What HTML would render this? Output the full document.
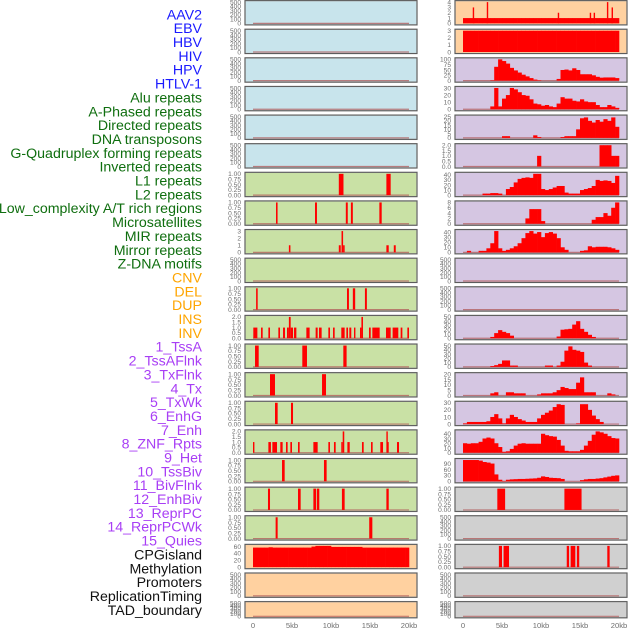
<!DOCTYPE html>
<html><head><meta charset="utf-8">
<style>
html,body{margin:0;padding:0;background:#fff;}
svg{display:block;font-family:"Liberation Sans",sans-serif;}
</style></head>
<body>
<svg id="chart" width="630" height="630" viewBox="0 0 630 630" xmlns="http://www.w3.org/2000/svg">
<g id="labels"></g>
<g id="panels"></g>
</svg>
<script>
// ---------- labels ----------
const labelNames = ["AAV2","EBV","HBV","HIV","HPV","HTLV-1","Alu repeats","A-Phased repeats","Directed repeats","DNA transposons","G-Quadruplex forming repeats","Inverted repeats","L1 repeats","L2 repeats","Low_complexity A/T rich regions","Microsatellites","MIR repeats","Mirror repeats","Z-DNA motifs","CNV","DEL","DUP","INS","INV","1_TssA","2_TssAFlnk","3_TxFlnk","4_Tx","5_TxWk","6_EnhG","7_Enh","8_ZNF_Rpts","9_Het","10_TssBiv","11_BivFlnk","12_EnhBiv","13_ReprPC","14_ReprPCWk","15_Quies","CPGisland","Methylation","Promoters","ReplicationTiming","TAD_boundary"];
const labelGroups = [6,13,5,15,5];
const groupColors = ["#1a1aff","#0f6e0f","#ffa500","#a83ef5","#111111"];

// ---------- tick label sets ----------
const ticksEmpty = ["0","100","200","300","400","500"];
const ticksUnit = ["0.00","0.25","0.50","0.75","1.00"];
const ticksTwo = ["0.0","0.5","1.0","1.5","2.0"];
const ticksThree = ["0","1","2","3"];
const ticksAAV2 = ["0","1","2","3","4"];
const ticksHIV = ["0","25","50","75","100"];
const ticks30 = ["0","10","20","30"];
const ticks25 = ["0","5","10","15","20","25"];
const ticks40 = ["0","10","20","30","40"];
const ticks8 = ["0","2","4","6","8"];
const ticks50 = ["0","10","20","30","40","50"];
const ticks20 = ["0","5","10","15","20"];
const ticks90 = ["0","30","60","90"];
const ticksCPG = ["0","20","40","60"];
const xTickLabels = ["0","5kb","10kb","15kb","20kb"];
const xTickValues = [0,5,10,15,20];

// ---------- binned series (40 bins x 0.5kb) ----------
const binsAAV2 = [1,1,1,1,1,1,1,1,1,1,1,1,1,1,1,1,1,1,1,1,1,1,1,1,1,1,1,1,1,1,1,1,1,1,1,1,1,1,1,1];
const binsEBV = [3,3,3,3,3,3,3,3,3,3,3,3,3,3,3,3,3,3,3,3,3,3,3,3,3,3,3,3,3,3,3,3,3,3,3,3,3,3,3,3];
const binsHIV = [0,0,0,0,0,0,0,2,65,100,92,80,60,48,38,28,20,12,5,2,0,0,0,0,8,50,52,48,58,50,30,30,30,25,18,14,15,15,15,12];
const binsAlu = [0,0,0,0,0,0,0,4,30,4,15,20,30,28,24,20,19,14,8,7,5,6,4,3,8,17,15,15,12,11,14,11,10,10,6,3,3,6,4,2];
const binsDirected = [0,0,0,0,0,0,0,0,0,0,2,2,0,0,0,0,0,0,3,1,0,0,0,0,0,1,2,2,2,10,23,24,20,18,21,19,22,20,24,13];
const binsDNA = [0,0,0,0,0,0,0,0,0,0,0,0,0,0,0,0,0,0,0,1,0,0,0,0,0,0,0,0,0,0,0,0,0,0,0,2,2,2,1,1];
const binsGQuad = [0,0,0,0,0,3,3,4,4,3,0,12,16,25,32,34,35,34,42,42,12,10,12,15,18,18,5,3,3,3,10,12,14,18,30,28,29,28,24,38];
const binsInverted = [0,0,0,0,0,0,0,0,0,0,0,0,0,0,0,0,2,5.5,5.5,5.5,1,0,0,0,0,0,0,0,0,0,0,0,0,1.5,2.5,2.5,4,3,6,8];
const binsL1 = [0,3,0,0,3,3,8,18,42,8,3,5,8,12,18,28,38,42,37,40,30,38,40,37,28,10,5,0,0,0,3,4,12,10,11,11,11,10,8,5];
const binsR11 = [0,0,0,0,0,0,0,3,12,19,15,12,6,0,0,0,0,0,0,0,0,0,0,0,4,20,21,22,32,40,22,15,8,3,0,0,0,0,0,0];
const binsR12 = [0,0,0,0,0,0,0,2,4,7,15,15,3,3,0,0,0,0,0,0,0,3,3,0,3,12,38,48,40,38,35,10,3,0,0,0,0,0,0,0];
const binsR13 = [0,0,0,0,0,0,0,2,3,0,0,3,3,2,2,2,0,0,0,1,2,2,2,3,5,8,7,6,6,12,17,3,3,3,0,0,0,2,1,0];
const binsR14 = [1,3,3,3,3,3,4,10,14,8,1,8,13,10,7,5,3,3,3,8,13,16,19,24,28,27,0,0,0,1,28,28,20,12,7,3,0,0,0,0];
const binsR15 = [20,19,20,20,23,30,32,30,20,12,2,3,8,15,19,20,19,19,19,19,40,37,35,34,27,15,4,3,3,3,6,15,25,38,45,43,40,35,31,30];
const binsR16 = [108,108,108,108,105,98,95,90,35,8,2,8,10,11,12,12,13,14,15,18,25,22,18,17,16,12,0,0,0,0,6,10,12,12,14,16,20,24,28,30];
const binsCPG = [57,57,57,57,58,57,57,57,57,57,57,57,57,57,57,60,62,62,62,62,59,59,59,59,59,59,59,59,57,57,57,57,57,57,57,57,57,57,57,57];

// ---------- segment series (kb start, kb end, height) ----------
const aav2Starts = [1.25,3.05,12.15,16.25,16.75,18.45,19.05];
const aav2Ends = [1.4,3.2,12.3,16.4,16.9,18.6,19.2];
const aav2Heights = [3,4,2,2,2,4,3];

const l1Starts = [11.0,17.1];
const l1Ends = [11.6,17.65];
const l1Heights = [1,1];

const l2Starts = [2.95,7.95,11.9,12.55,16.2];
const l2Ends = [3.15,8.2,12.15,12.8,16.5];
const l2Heights = [1,1,1,1,1];

const lowStarts = [4.6,11.0,11.35,11.55,17.1,18.05];
const lowEnds = [4.8,11.25,11.55,11.75,17.4,18.3];
const lowHeights = [1,1,3,1,1,1];

const mirStarts = [0.4,12.05,12.8,14.35];
const mirEnds = [0.6,12.3,13.1,14.6];
const mirHeights = [1,1,1,1];

const insStarts = [0.04,1.03,1.97,3.25,3.85,4.36,4.6,4.83,5.26,6.84,8.03,8.46,9.66,10.26,11.32,11.97,12.35,12.95,13.72,13.9,14.87,15.3,17.05,17.9,18.93,19.79];
const insEnds = [0.56,1.24,2.18,3.46,4.1,4.6,4.83,5.13,5.56,7.26,8.29,8.8,9.87,10.47,11.75,12.18,12.6,13.12,13.9,14.1,15.09,16.24,17.65,18.63,19.15,20.0];
const insHeights = [1,1,1,1,1,1,2,1,1,1,1,1,1,1,1,1,1,1,1,2,1,1,1,1,1,1];

const tssAStarts = [0.26,6.32,11.58];
const tssAEnds = [0.73,6.92,12.0];
const tssAHeights = [1,1,1];

const tssAFlnkStarts = [2.18,8.85];
const tssAFlnkEnds = [2.82,9.36];
const tssAFlnkHeights = [1,1];

const txFlnkStarts = [2.82,4.87];
const txFlnkEnds = [3.16,5.13];
const txFlnkHeights = [1,1];

const txStarts = [0.0,1.97,2.48,3.5,4.23,4.79,5.77,7.74,9.66,10.38,11.32,11.5,12.1,13.97,15.13,16.32,17.1,17.2,18.46];
const txEnds = [0.12,2.3,3.08,3.8,4.44,5.0,5.98,8.29,9.87,10.6,11.5,11.7,12.4,14.19,15.34,16.67,17.2,17.4,18.72];
const txHeights = [1,1,1,1,1,1,1,1,1,1,1,2,1,1,1,1,2,1,1];

const txWkStarts = [3.72,9.1];
const txWkEnds = [4.06,9.44];
const txWkHeights = [1,1];

const enhGStarts = [1.92,5.77,7.74,8.2,11.4,17.1];
const enhGEnds = [2.18,6.11,8.1,8.5,11.75,17.4];
const enhGHeights = [1,1,1,1,1,1];

const enhStarts = [2.9,14.9];
const enhEnds = [3.16,15.3];
const enhHeights = [1,1];

const bivStarts = [4.4,13.0];
const bivEnds = [5.4,15.2];
const bivHeights = [1,1];

const reprStarts = [4.6,5.2,13.3,13.8,14.6,18.5];
const reprEnds = [5.0,5.9,13.6,14.4,14.9,18.8];
const reprHeights = [1,1,1,1,1,1];

// ---------- track layout ----------
const BLUE="#c8e4ec", GREEN="#c9e1a5", ORANGE="#ffd1a0", PURPLE="#d5c6e2", GREY="#d0d0d0";
const leftTracks = [
 {bg:BLUE,ticks:ticksEmpty},{bg:BLUE,ticks:ticksEmpty},{bg:BLUE,ticks:ticksEmpty},
 {bg:BLUE,ticks:ticksEmpty},{bg:BLUE,ticks:ticksEmpty},{bg:BLUE,ticks:ticksEmpty},
 {bg:GREEN,ticks:ticksUnit,segs:[l1Starts,l1Ends,l1Heights]},
 {bg:GREEN,ticks:ticksUnit,segs:[l2Starts,l2Ends,l2Heights]},
 {bg:GREEN,ticks:ticksThree,segs:[lowStarts,lowEnds,lowHeights]},
 {bg:GREEN,ticks:ticksEmpty},
 {bg:GREEN,ticks:ticksUnit,segs:[mirStarts,mirEnds,mirHeights]},
 {bg:GREEN,ticks:ticksTwo,segs:[insStarts,insEnds,insHeights]},
 {bg:GREEN,ticks:ticksUnit,segs:[tssAStarts,tssAEnds,tssAHeights]},
 {bg:GREEN,ticks:ticksUnit,segs:[tssAFlnkStarts,tssAFlnkEnds,tssAFlnkHeights]},
 {bg:GREEN,ticks:ticksUnit,segs:[txFlnkStarts,txFlnkEnds,txFlnkHeights]},
 {bg:GREEN,ticks:ticksTwo,segs:[txStarts,txEnds,txHeights]},
 {bg:GREEN,ticks:ticksUnit,segs:[txWkStarts,txWkEnds,txWkHeights]},
 {bg:GREEN,ticks:ticksUnit,segs:[enhGStarts,enhGEnds,enhGHeights]},
 {bg:GREEN,ticks:ticksUnit,segs:[enhStarts,enhEnds,enhHeights]},
 {bg:ORANGE,ticks:ticksCPG,bins:binsCPG,noBase:true},
 {bg:ORANGE,ticks:ticksEmpty},{bg:ORANGE,ticks:ticksEmpty}
];
const rightTracks = [
 {bg:ORANGE,ticks:ticksAAV2,bins:binsAAV2,segs:[aav2Starts,aav2Ends,aav2Heights],noBase:true},
 {bg:ORANGE,ticks:ticksThree,bins:binsEBV,noBase:true},
 {bg:PURPLE,ticks:ticksHIV,bins:binsHIV},
 {bg:PURPLE,ticks:ticks30,bins:binsAlu},
 {bg:PURPLE,ticks:ticks25,bins:binsDirected},
 {bg:PURPLE,ticks:ticksTwo,bins:binsDNA},
 {bg:PURPLE,ticks:ticks40,bins:binsGQuad},
 {bg:PURPLE,ticks:ticks8,bins:binsInverted},
 {bg:PURPLE,ticks:ticks40,bins:binsL1},
 {bg:PURPLE,ticks:ticksEmpty},{bg:PURPLE,ticks:ticksEmpty},
 {bg:PURPLE,ticks:ticks50,bins:binsR11},
 {bg:PURPLE,ticks:ticks50,bins:binsR12},
 {bg:PURPLE,ticks:ticks20,bins:binsR13},
 {bg:PURPLE,ticks:ticks30,bins:binsR14},
 {bg:PURPLE,ticks:ticks40,bins:binsR15},
 {bg:PURPLE,ticks:ticks90,bins:binsR16},
 {bg:GREY,ticks:ticksUnit,segs:[bivStarts,bivEnds,bivHeights]},
 {bg:GREY,ticks:ticksEmpty},
 {bg:GREY,ticks:ticksUnit,segs:[reprStarts,reprEnds,reprHeights]},
 {bg:GREY,ticks:ticksEmpty},{bg:GREY,ticks:ticksEmpty}
];

const NS="http://www.w3.org/2000/svg";
function mk(tag, attrs, parent){
  const e=document.createElementNS(NS,tag);
  for(const k in attrs) e.setAttribute(k,attrs[k]);
  parent.appendChild(e); return e;
}

// labels
const lg=document.getElementById('labels');
let gi=0, gc=0;
labelNames.forEach((name,i)=>{
  const t=mk('text',{x:202,y:(19.3+i*13.85).toFixed(1),'text-anchor':'end','font-size':'14.2',fill:groupColors[gi]},lg);
  t.textContent=name;
  
  
  gc++; if(gc>=labelGroups[gi]){gi++;gc=0;}
});

const pg=document.getElementById('panels');
function drawColumn(tracks, panelLeft, panelRight, x0px, x20px, colName){
  const xs = kb => x0px + (x20px-x0px)*kb/20;
  const col=mk('g',{},pg);
  
  
  tracks.forEach((tr,i)=>{
    const top=0.6+i*28.62;
    const h = (i===tracks.length-1)?16.2:24.3;
    const g=mk('g',{},col);
    
    
    const bg=mk('rect',{x:panelLeft,y:top,width:panelRight-panelLeft,height:h,fill:tr.bg,stroke:'#b8b8b8','stroke-width':1.4},g);
    
    
    mk('rect',{x:panelLeft,y:top,width:panelRight-panelLeft,height:h,fill:'none',stroke:'#5a5a5a','stroke-width':1},g);
    const tickNums=tr.ticks.map(Number);
    let ymax=tickNums[tickNums.length-1];
    if(tr.bins) ymax=Math.max(ymax,...tr.bins);
    if(tr.segs) ymax=Math.max(ymax,...tr.segs[2]);
    const yb=top+h-1.5, yt=top+1.5;
    const ys = v => yb-(yb-yt)*v/ymax;
    tr.ticks.forEach((lab,k)=>{
      const t=mk('text',{x:panelLeft-4,y:(ys(tickNums[k])+2.3).toFixed(2),'text-anchor':'end','font-size':'6.6',fill:'#6e6e6e'},g);
      t.textContent=lab;
      
      
    });
    if(!tr.noBase){
      const bl=mk('line',{x1:xs(0),x2:xs(20),y1:yb,y2:yb,stroke:'#b05a5a','stroke-opacity':0.75,'stroke-width':1.2},g);
      
      
    }
    if(tr.bins){
      const bw=20/tr.bins.length;
      tr.bins.forEach((v,b)=>{
        if(v<=0) return;
        const x1=xs(b*bw), x2=xs((b+1)*bw);
        const r=mk('rect',{x:x1.toFixed(2),y:ys(v).toFixed(2),width:(x2-x1+0.3).toFixed(2),height:(yb-ys(v)).toFixed(2),fill:'#ff0000'},g);
        
        
      });
    }
    if(tr.segs){
      const [st,en,hs]=tr.segs;
      st.forEach((s,k)=>{
        const x1=xs(s), w=Math.max(1.4,xs(en[k])-x1);
        const r=mk('rect',{x:x1.toFixed(2),y:ys(hs[k]).toFixed(2),width:w.toFixed(2),height:(yb-ys(hs[k])).toFixed(2),fill:'#ff0000'},g);
        
        
      });
    }
  });
  xTickValues.forEach((v,k)=>{
    const t=mk('text',{x:xs(v),y:628,'text-anchor':'middle','font-size':'7.6',fill:'#6e6e6e'},col);
    t.textContent=xTickLabels[k];
    
    
  });
}
drawColumn(leftTracks,245,417,253,409,'left-track-column');
drawColumn(rightTracks,455,627,463,619,'right-track-column');
</script>
</body></html>
